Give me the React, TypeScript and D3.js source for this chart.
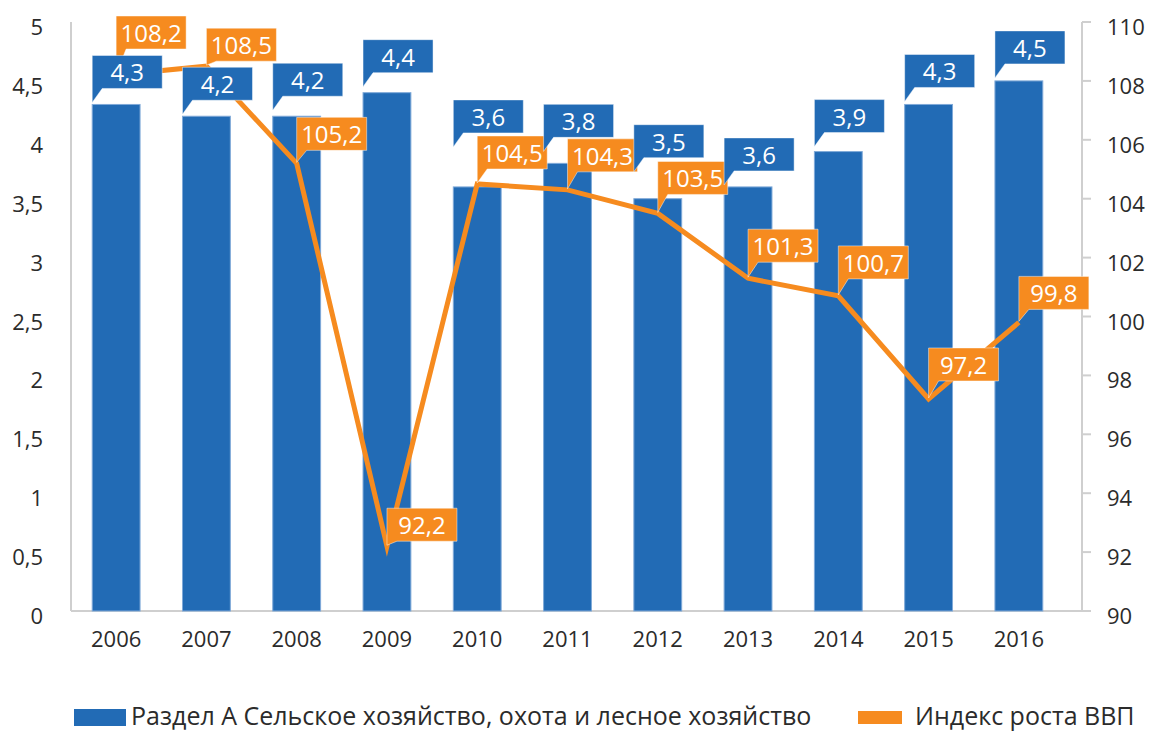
import React from 'react';
import * as d3 from 'd3';

// values
const years = ['2006', '2007', '2008', '2009', '2010', '2011', '2012', '2013', '2014', '2015', '2016'];
const agriShare = [4.3, 4.2, 4.2, 4.4, 3.6, 3.8, 3.5, 3.6, 3.9, 4.3, 4.5];
const gdpIndex = [108.2, 108.5, 105.2, 92.2, 104.5, 104.3, 103.5, 101.3, 100.7, 97.2, 99.8];
const leftTicks = [0, 0.5, 1, 1.5, 2, 2.5, 3, 3.5, 4, 4.5, 5];
const rightTicks = [90, 92, 94, 96, 98, 100, 102, 104, 106, 108, 110];
const barSeriesName = 'Раздел А Сельское хозяйство, охота и лесное хозяйство';
const lineSeriesName = 'Индекс роста ВВП';

// callouts were dragged by hand in the original, extra lift per label (px)
const barLabelLift = [-1, -1, 3, 3, 37, 9, 24, -1, 2, 0, 0];
const lineLabelLift = [9, -12, -4, -12, -2, 1, 2, -1, 0, 1, -4];

const W = 1149;
const H = 733;
const BLUE = '#226bb5';
const ORANGE = '#f68b1f';
const TEXT = '#2b2b2b';
const AXIS = '#cfcfcf';
const FONT = '"Open Sans", sans-serif';

const left = 71;
const right = 1082;
const top = 22;
const bottom = 611;
const boxW = 70;
const boxH = 33;

const fmt = (v: number) => String(v).replace('.', ',');

const Callout = ({ x, y, tipY, fill, text }: { x: number; y: number; tipY: number; fill: string; text: string }) => {
  // x,y = bottom-left corner of the box, pointer goes down to tipY
  const path = `M${x},${y - boxH}H${x + boxW}V${y}H${x + 10}L${x},${tipY}Z`;
  return (
    <g>
      <path d={path} fill={fill} stroke="rgba(255,255,255,0.45)" strokeWidth={1} />
      <text x={x + boxW / 2} y={y - 7} textAnchor="middle" fill="#fff" fontSize={24} fontFamily={FONT}>
        {text}
      </text>
    </g>
  );
};

export default function App() {
  const x = d3.scaleBand<string>().domain(years).range([left, 1064]).paddingInner(0.47).paddingOuter(0.235);
  const yL = d3.scaleLinear().domain([0, 5]).range([bottom, top]);
  const yR = d3.scaleLinear().domain([90, 110]).range([bottom, top]);
  const cx = (i: number) => (x(years[i]) as number) + x.bandwidth() / 2;

  const line = d3
    .line<number>()
    .x((_, i) => cx(i))
    .y((d) => yR(d));

  return (
    <svg width={W} height={H} style={{ position: 'absolute', left: 0, top: 0 }}>
      <rect width={W} height={H} fill="#fff" />

      {/* axes */}
      <line x1={left} x2={left} y1={top} y2={bottom} stroke={AXIS} strokeWidth={2} />
      <line x1={left} x2={right + 9} y1={bottom} y2={bottom} stroke={AXIS} strokeWidth={2} />
      <line x1={right} x2={right} y1={top} y2={bottom} stroke={AXIS} strokeWidth={2} />
      {rightTicks.map((t) => (
        <g key={'r' + t}>
          <line x1={right} x2={right + 9} y1={yR(t)} y2={yR(t)} stroke={AXIS} strokeWidth={2} />
          <text x={1107} y={yR(t) + 13} fontSize={22} fontFamily={FONT} fill={TEXT}>
            {t}
          </text>
        </g>
      ))}
      {leftTicks.map((t) => (
        <text key={'l' + t} x={43} y={yL(t) + 13} textAnchor="end" fontSize={22} fontFamily={FONT} fill={TEXT}>
          {fmt(t)}
        </text>
      ))}
      {years.map((yr, i) => (
        <text key={'x' + yr} x={cx(i)} y={647} textAnchor="middle" fontSize={22} fontFamily={FONT} fill={TEXT}>
          {yr}
        </text>
      ))}

      {/* bars */}
      {agriShare.map((v, i) => (
        <rect
          key={'b' + i}
          x={x(years[i])}
          y={yL(v)}
          width={x.bandwidth()}
          height={bottom - yL(v)}
          fill={BLUE}
          stroke="#7fa9d8"
          strokeWidth={1}
        />
      ))}

      {/* line */}
      <path d={line(gdpIndex) || ''} fill="none" stroke={ORANGE} strokeWidth={5} strokeLinejoin="miter" strokeMiterlimit={10} />

      {/* line labels */}
      {gdpIndex.map((v, i) => {
        const bx = cx(i);
        const by = yR(v) - 17 - lineLabelLift[i];
        return <Callout key={'ol' + i} x={bx} y={by} tipY={yR(v) - 1} fill={ORANGE} text={fmt(v)} />;
      })}

      {/* bar labels */}
      {agriShare.map((v, i) => {
        const bx = x(years[i]) as number;
        const by = yL(v) - 17 - barLabelLift[i];
        return <Callout key={'bl' + i} x={bx} y={by} tipY={by + 14} fill={BLUE} text={fmt(v)} />;
      })}

      {/* legend */}
      <rect x={74} y={709} width={52} height={17} fill={BLUE} />
      <text x={131} y={725} fontSize={25} fontFamily={FONT} fill={TEXT}>
        {barSeriesName}
      </text>
      <rect x={858} y={711} width={44} height={13} fill={ORANGE} />
      <text x={915} y={725} fontSize={25} fontFamily={FONT} fill={TEXT}>
        {lineSeriesName}
      </text>
    </svg>
  );
}
